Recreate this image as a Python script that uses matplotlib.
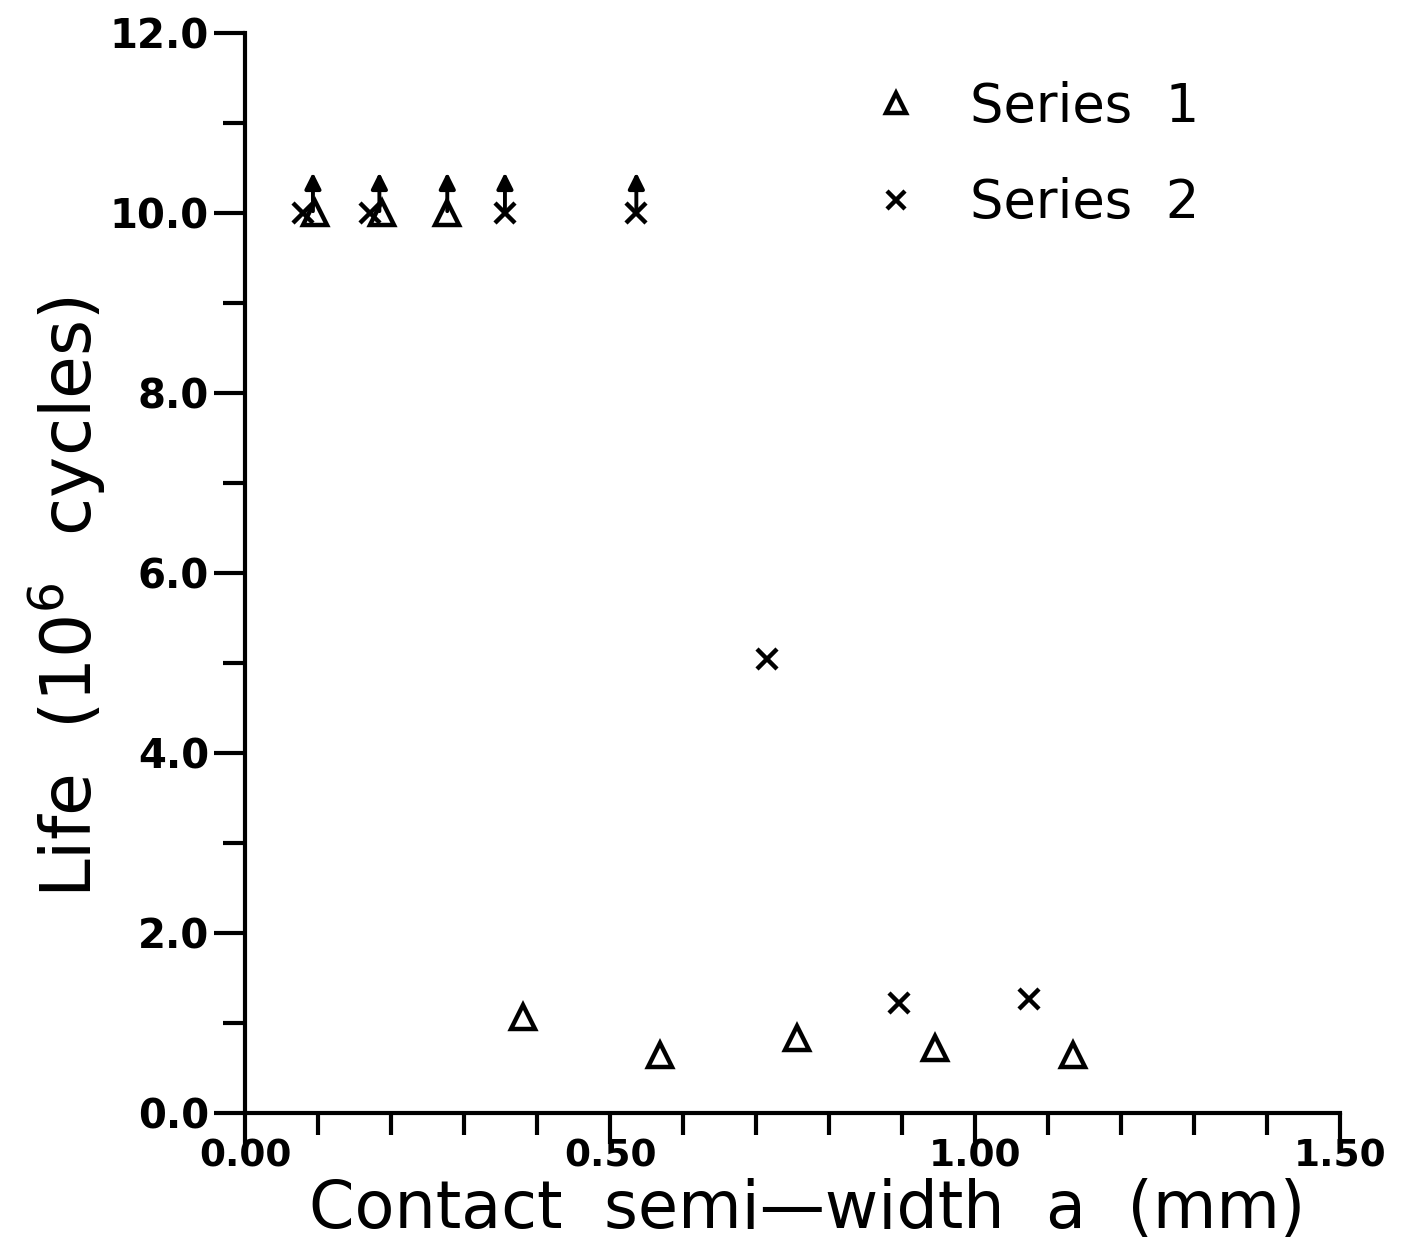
import matplotlib.pyplot as plt
from matplotlib.ticker import MultipleLocator, FormatStrFormatter

# series 1 (triangles)
s1_x = [0.096, 0.188, 0.277, 0.381, 0.568, 0.756, 0.945, 1.134]
s1_y = [10.0, 10.0, 10.0, 1.07, 0.64, 0.83, 0.72, 0.64]
# series 2 (crosses)
s2_x = [0.079, 0.171, 0.356, 0.536, 0.715, 0.896, 1.074]
s2_y = [10.0, 10.0, 10.0, 10.0, 5.04, 1.22, 1.27]
# run-outs (test stopped, arrow up)
runout_x = [0.093, 0.184, 0.277, 0.356, 0.536]
runout_y = 10.0

fig = plt.figure(figsize=(14.1, 12.53), dpi=100)
ax = fig.add_axes([0.1738, 0.1117, 0.7766, 0.862])

ax.plot(s1_x, s1_y, ls='none', marker='^', ms=17, mfc='none', mec='k', mew=3.2,
        label='Series  1', clip_on=False)
ax.plot(s2_x, s2_y, ls='none', marker='x', ms=15, mec='k', mew=3.2,
        label='Series  2', clip_on=False)

for x in runout_x:
    ax.annotate('', xy=(x, runout_y + 0.45), xytext=(x, runout_y + 0.02),
                arrowprops=dict(arrowstyle='-|>', lw=2.8, color='k',
                                mutation_scale=24, shrinkA=0, shrinkB=0))

ax.set_xlim(0, 1.5)
ax.set_ylim(0, 12)
ax.xaxis.set_major_locator(MultipleLocator(0.5))
ax.xaxis.set_minor_locator(MultipleLocator(0.1))
ax.yaxis.set_major_locator(MultipleLocator(2))
ax.yaxis.set_minor_locator(MultipleLocator(1))
ax.xaxis.set_major_formatter(FormatStrFormatter('%.2f'))
ax.yaxis.set_major_formatter(FormatStrFormatter('%.1f'))

for s in ['top', 'right']:
    ax.spines[s].set_visible(False)
for s in ['left', 'bottom']:
    ax.spines[s].set_linewidth(3)

ax.tick_params(which='major', direction='out', length=22, width=3, pad=4,
               labelsize=29)
ax.tick_params(axis='x', which='major', pad=-4, labelsize=27)
ax.tick_params(which='minor', direction='out', length=16, width=3)
for lbl in ax.get_xticklabels() + ax.get_yticklabels():
    lbl.set_fontweight('bold')

ax.set_xlabel('Contact  semi\u2014width  a  (mm)', fontsize=47)
ax.xaxis.set_label_coords(0.513, -0.060)
ax.set_ylabel('Life  (10$^{6}$  cycles)', fontsize=50)
ax.yaxis.set_label_coords(-0.125, 0.478)

ax.legend(loc='upper left', bbox_to_anchor=(0.527, 1.0), frameon=False,
          fontsize=38, handlelength=1.0, handletextpad=0.9, labelspacing=0.85,
          markerscale=0.85)

fig.savefig('out.png', dpi=100, facecolor='white')
